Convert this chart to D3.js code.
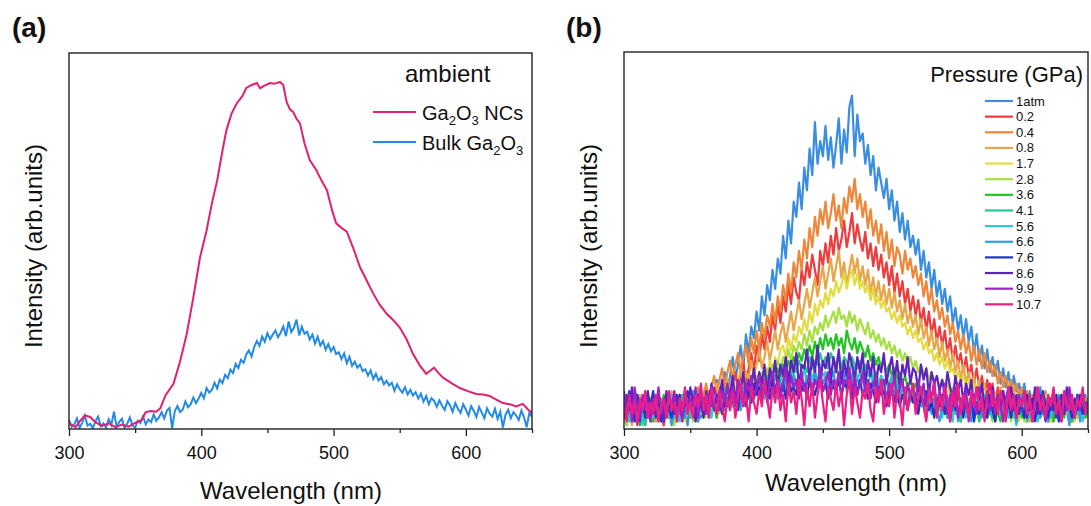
<!DOCTYPE html>
<html>
<head>
<meta charset="utf-8">
<script src="https://cdn.jsdelivr.net/npm/d3@7"></script>
<style>
  body { margin: 0; background: #fff; }
  text { font-family: "Liberation Sans", Arial, sans-serif; fill: #111; }
</style>
</head>
<body>
<svg width="1091" height="506"></svg>
<script>
// ---- panel (a) data ----
var wlA = d3.range(300, 651, 2); // 2 nm grid of the bulk spectrum
var bulkA = [
  2.4,0.6,1.2,2.8,0.3,1.7,3.6,0.9,1.4,0.2,
  2.1,3.3,0.7,1.5,0.4,2.6,1.1,4.6,0.5,1.9,
  2.7,0.3,1.4,3.1,0.9,0.4,2.2,1.6,3.4,1.2,
  2.5,1.8,3.9,2.2,3.1,4.5,2.8,4.9,5.6,0.2,
  4.8,6.1,4.5,5.2,7.3,5.8,6.6,8.4,6.9,8.1,
  9.6,8.2,10.9,9.7,10.4,12.3,10.8,13.1,12.2,14.4,
  13.5,15.8,14.9,17.3,16.2,18.4,17.6,19.8,20.9,19.3,
  21.8,23.4,22.1,24.6,23.2,25.5,23.9,25.1,26.2,24.4,
  25.6,27.3,24.7,28.6,25.8,26.9,29.1,24.9,27.2,25.3,
  25.9,23.8,25.1,22.7,24.5,22.2,23.4,21.1,22.6,20.7,
  21.8,19.9,20.4,18.6,20.1,17.5,19.2,16.8,17.9,16.3,
  17.1,15.4,15.9,14.2,15.6,13.3,14.7,12.9,13.8,11.9,
  12.8,11.6,12.3,10.2,11.9,10.6,9.7,11.1,9.2,10.4,
  8.9,9.8,8.1,9.4,7.3,8.8,6.6,8.2,7.5,5.9,
  7.6,6.2,5.1,7.4,6.3,4.6,6.9,5.4,4.3,6.6,
  5.2,3.6,6.1,4.8,3.2,5.9,4.4,2.9,5.5,4.1,
  3.3,5.4,2.7,4.6,0.4,3.8,5.1,2.9,4.5,3.6,
  2.4,4.9,3.1,0.5,4.3,3.3
];
var ncA = [
  [300,1.5],[305,0.5],[308,2],[312,3.6],[316,3.2],[320,1.8],[325,0.8],[330,1.5],
  [335,0.5],[340,1.2],[345,0.6],[350,1.6],[355,2.4],[358,4.5],[362,4.8],[366,4.6],
  [369,5.5],[373,9],[379,12],[384,18],[389,25.3],[394,35],[399,45.6],[404,52.8],
  [408,60],[412,66.1],[416,74],[419,79.5],[423,84],[427,86.7],[431,88.5],[434,90.7],
  [438,91.5],[442,92],[444.5,90.6],[447,91.2],[452,92],[455,91.8],[459.5,92.3],[462,91.5],
  [464.5,87],[467,85],[469.5,84.3],[472,82.5],[474.6,81.3],[478,76],[482,71.5],[487,68.8],
  [491,66],[495,63.5],[499,58],[502,54.7],[506,53.5],[510,52.5],[515,48],[520,43],
  [525,39.5],[530,36],[535,33],[540,30.7],[545,29],[550,27],[555,24],[560,20],
  [565,17],[570,14.7],[573,15.5],[576,16.3],[579,15],[583,13.6],[590,12],[595.5,10.9],
  [602,10],[608,9.3],[613,9.2],[618,8.8],[623,7.8],[628,6.9],[634,6.5],[638,6],
  [643,6.7],[647,5.2],[650,4.3]
];

// ---- panel (b) data ----
var wlB = d3.range(300, 651, 2); // 2 nm grid, 176 points
var pressures = ["1atm","0.2","0.4","0.8","1.7","2.8","3.6","4.1","5.6","6.6","7.6","8.6","9.9","10.7"];
var colorsB = ["#3a8ee2","#ee3b3b","#ef873a","#e9a648","#e2dc40","#a6e040","#22c422","#22c88e",
               "#32c6d2","#2f9fde","#2232c8","#5e22c0","#a022c6","#ec1f86"];

var p1atm = [4,1,7,3,9,2,5,8,1,6, 3,9,2,5,7,1,8,4,6,2, 7,3,9,5,1,8,4,6,10,3,
  5,9,4,11,7,13,8,10,15,9, 14,19,13,17,22,16,25,20,27,24, 31,26,35,30,38,34,42,37,45,41,
  51,45,55,49,60,56,65,58,69,63, 74,67,81,70,76,72,80,71,77,69, 75,82,70,79,73,85,88,72,83,76,
  78,70,75,67,72,63,69,65,61,66, 58,63,55,60,52,57,50,55,48,51, 46,50,42,47,40,44,37,42,35,39,
  33,37,31,35,28,32,26,30,24,29, 23,27,20,25,18,22,16,21,15,19, 14,18,12,16,11,15,9,14,10,12,
  8,12,6,10,5,9,7,11,4,8, 6,2,9,4,7,3,8,5,1,7, 4,8,2,6,9,3];
var p02 = [5,2,8,3,6,9,1,4,7,3, 8,2,5,9,4,1,7,3,6,8, 2,7,4,9,5,3,8,6,2,9,
  4,7,10,5,8,3,11,7,9,13, 8,12,15,10,14,18,12,16,20,15, 22,18,25,21,27,23,30,26,33,28,
  35,31,38,33,40,36,34,42,38,44, 40,46,42,38,47,43,49,44,51,46, 53,47,50,55,48,52,57,49,54,50,
  47,52,45,49,43,48,42,46,40,44, 38,43,36,41,35,39,33,37,31,35, 30,34,28,32,26,31,25,29,23,27,
  22,26,20,24,18,22,17,20,15,19, 14,17,12,16,11,14,9,13,8,12, 7,11,5,9,8,4,10,6,3,8,
  5,9,2,7,4,8,6,3,9,5, 2,7,5,9,3,6,8,4,7,2, 6,9,4,7,3,8];
var p04 = [7,3,9,5,2,8,4,6,10,3, 6,9,4,2,8,5,7,3,9,6, 3,8,5,10,6,4,9,7,11,5,
  9,12,7,11,14,9,13,16,11,15, 18,13,17,20,15,19,22,17,24,20, 26,21,28,24,30,27,33,28,35,31,
  38,34,41,36,44,40,47,42,50,45, 53,48,56,51,58,54,60,53,57,62, 55,59,53,61,57,64,60,66,58,62,
  56,60,53,58,51,55,49,54,47,52, 45,50,43,48,46,41,47,42,45,40, 43,38,41,35,39,33,37,31,34,29,
  32,27,30,25,28,23,26,21,25,20, 23,18,22,17,21,16,20,15,18,14, 17,12,15,11,14,10,13,9,12,8,
  11,7,10,5,9,6,3,8,5,10, 4,7,2,9,6,3,8,5,10,4, 7,3,9,5,8,6];
var p08 = [3,8,5,1,7,4,9,2,6,8, 4,7,2,9,5,8,3,6,10,4, 8,5,2,9,6,4,10,7,3,8,
  6,10,7,4,9,12,8,11,7,13, 10,14,9,12,16,11,15,13,18,14, 17,21,16,19,23,18,22,26,21,25,
  28,23,27,31,26,30,34,29,33,37, 32,36,40,35,39,43,37,41,45,39, 43,47,40,44,38,42,46,41,45,39,
  43,38,42,36,40,35,39,34,38,33, 37,32,36,31,34,29,33,28,31,27, 30,25,29,24,27,22,26,21,24,19,
  23,18,21,16,20,15,18,13,17,12, 15,11,14,9,13,8,12,7,10,6, 9,5,11,7,4,8,6,10,3,7,
  9,4,6,2,8,5,10,3,7,4, 8,5,2,9,6,3,7,4,9,5, 2,6,8,4,7,3];
var p17 = [7,3,5,9,2,6,4,8,3,5, 2,6,9,4,7,3,8,5,1,7, 4,9,6,2,8,5,3,7,9,4,
  6,3,8,5,9,7,4,8,6,9, 7,10,8,11,9,12,10,13,11,14, 13,15,12,16,14,18,15,19,17,21,
  22,19,24,21,25,23,27,25,29,26, 31,28,33,30,34,32,36,33,37,35, 39,36,38,41,37,40,42,38,41,37,
  39,36,38,34,37,33,35,32,34,31, 32,29,31,28,30,27,28,25,27,24, 26,23,24,21,23,20,21,18,20,17,
  19,16,18,15,16,13,15,12,14,11, 13,10,12,9,11,8,10,7,9,6, 8,5,9,6,3,7,4,8,5,2,
  6,9,3,7,5,8,2,6,4,9, 5,2,7,4,8,3,6,9,4,7, 2,6,8,3,5,7];
var p28 = [5,1,7,4,9,3,6,2,8,4, 7,3,5,9,2,6,4,8,5,1, 6,9,3,7,4,8,2,5,9,6,
  3,7,5,9,6,4,8,7,10,6, 9,7,11,8,10,9,12,10,13,11, 14,12,15,13,16,14,17,15,18,16,
  19,17,21,18,22,20,23,21,25,22, 26,23,27,25,28,26,30,27,29,31, 28,32,29,30,27,31,28,30,26,29,
  27,25,28,24,26,23,25,22,24,21, 23,20,22,19,21,18,20,17,19,16, 18,15,17,14,16,13,15,12,14,11,
  13,10,12,9,11,8,10,7,9,6, 8,5,9,6,3,7,4,8,5,2, 6,9,3,7,5,8,2,6,4,9,
  5,2,7,4,8,3,6,9,4,7, 2,6,8,3,5,7,4,9,2,6, 8,3,5,7,4,6];
var p36 = [3,7,2,5,8,4,1,6,9,3, 5,2,8,4,6,9,3,7,2,5, 8,4,6,3,9,5,7,2,6,8,
  4,7,5,9,6,3,8,6,10,7, 9,6,10,8,11,7,12,9,11,10, 12,10,13,11,14,12,15,13,16,14,
  17,14,18,16,19,17,20,18,21,19, 22,19,23,20,24,21,25,22,24,21, 25,22,24,20,26,23,21,24,20,23,
  21,19,22,18,20,17,19,16,18,15, 17,14,16,13,15,12,14,11,13,10, 12,9,11,8,10,7,9,6,8,5,
  9,6,3,7,4,8,5,2,6,9, 3,7,5,8,2,6,4,9,5,3, 7,4,2,6,8,3,5,9,4,6,
  3,7,5,8,2,6,9,4,7,3, 5,8,2,6,4,9,3,7,5,2, 6,8,4,7,3,5];
var p41 = [6,3,8,2,5,9,4,7,1,6, 3,8,5,2,7,4,9,3,6,8, 2,5,9,4,7,3,8,6,10,5,
  8,4,7,10,6,9,5,8,11,7, 9,6,10,8,12,9,11,8,12,10, 13,10,12,11,14,12,15,13,14,12,
  16,13,15,14,17,15,18,16,17,15, 19,16,18,17,20,17,19,16,20,18, 17,20,16,19,18,15,19,17,16,18,
  15,17,14,16,13,15,12,14,11,13, 12,14,11,13,10,12,9,11,8,10, 9,11,7,10,6,9,5,8,4,7,
  8,5,3,7,9,4,6,2,8,5, 7,3,9,5,2,6,8,4,7,3, 6,9,4,2,7,5,8,3,6,9,
  4,7,2,5,8,3,6,9,4,7, 2,6,8,5,3,7,4,9,6,2, 5,8,3,7,4,6];
var p56 = [4,9,2,6,3,8,5,1,7,4, 8,3,6,10,2,5,7,4,9,3, 6,2,8,5,9,4,7,3,10,6,
  4,8,6,3,9,5,7,10,6,8, 5,9,7,10,8,6,11,9,7,10, 12,9,11,8,13,10,12,9,14,11,
  13,10,14,12,15,11,14,13,16,12, 15,13,16,12,17,14,15,13,16,14, 17,13,15,16,12,15,14,17,13,15,
  12,14,11,15,12,13,10,14,11,12, 10,13,9,12,8,11,9,10,7,11, 8,10,6,9,5,8,7,4,9,6,
  3,8,5,7,2,9,4,6,8,3, 7,5,2,8,4,6,9,3,5,7, 2,6,9,4,7,3,8,5,1,6,
  9,4,7,3,6,8,2,5,9,4, 6,3,8,5,2,7,4,9,6,3, 7,4,8,2,6,5];
var p66 = [7,3,5,9,2,6,4,8,3,5, 2,7,4,9,6,3,8,5,1,6, 9,4,7,3,8,5,10,6,2,7,
  5,8,3,9,6,4,10,7,5,8, 6,10,7,9,5,11,8,10,7,9, 11,8,12,9,10,13,9,11,8,12,
  10,13,11,9,14,12,10,13,11,14, 12,10,15,11,13,12,14,10,13,15, 11,14,12,15,10,13,14,11,13,12,
  14,10,12,11,13,9,12,10,11,8, 12,9,10,7,11,8,10,6,9,7, 8,5,9,6,3,7,4,8,5,2,
  6,9,3,7,5,8,2,6,4,9, 5,2,7,4,8,3,6,9,4,7, 2,6,8,3,5,7,4,9,2,6,
  8,3,5,7,4,6,9,3,5,8, 2,7,4,6,9,3,5,8,2,6, 4,9,3,7,5,8];
var p76 = [8,4,10,6,2,9,5,7,3,9, 6,10,4,8,2,7,9,5,3,8, 5,9,3,7,10,6,8,4,9,7,
  3,8,6,10,5,9,7,4,8,6, 10,7,9,5,11,8,6,10,7,12, 9,11,7,12,10,8,13,9,11,10,
  12,8,13,10,11,9,14,10,12,8, 13,11,9,12,14,10,12,8,13,11, 10,13,9,12,11,14,8,12,10,13,
  9,11,8,12,10,7,11,9,10,6, 9,11,7,10,6,9,8,5,10,7, 8,4,9,6,10,5,7,3,8,6,
  9,4,7,2,8,5,10,6,3,8, 5,9,2,7,4,8,6,3,9,5, 2,8,6,10,4,7,3,9,5,8,
  6,3,9,5,8,2,7,4,10,6, 3,8,5,9,2,7,4,10,6,3, 8,5,9,4,7,6];
var p86 = [3,9,5,11,4,7,2,8,6,10, 4,8,3,9,6,2,10,5,7,4, 9,6,3,8,5,11,7,2,9,6,
  4,10,7,12,5,9,8,13,6,11, 9,14,7,12,10,15,8,13,11,16, 10,15,12,17,9,16,13,18,11,17,
  14,19,12,18,15,20,11,17,16,21, 13,19,15,22,12,18,16,20,13,19, 15,21,12,18,14,20,17,13,19,15,
  20,12,18,14,19,11,17,15,20,12, 16,19,13,18,11,17,14,19,12,16, 15,10,17,13,16,9,15,12,14,10,
  13,9,15,11,8,14,10,13,7,12, 9,13,6,11,8,12,5,10,7,11, 4,9,6,10,3,8,11,5,9,4,
  7,10,3,8,5,11,4,9,6,2, 8,5,10,3,7,9,4,11,6,8, 3,9,5,10,4,7];
var p99 = [10,4,8,2,11,6,3,9,5,7, 2,8,5,11,4,7,3,9,6,10, 4,7,2,9,5,8,6,11,3,10,
  7,4,9,6,11,8,5,10,7,12, 8,11,6,13,9,7,12,10,14,8, 11,14,9,13,7,12,15,10,13,8,
  12,16,9,14,11,13,8,15,10,12, 14,9,13,11,16,10,12,15,9,13, 11,15,8,13,12,16,10,14,9,12,
  15,10,13,8,12,14,9,11,13,7, 12,10,14,8,11,13,7,12,9,11, 7,13,9,12,6,11,8,13,5,10,
  7,12,4,9,6,11,3,8,5,10, 2,7,9,4,11,6,3,8,5,10, 4,9,6,2,8,11,5,7,3,9,
  6,10,4,8,2,7,11,5,9,3, 8,6,10,4,7,2,9,5,11,6, 3,8,5,10,4,7];
var p107 = [6,2,9,4,7,1,8,5,10,3, 7,4,9,2,6,8,3,10,5,7, 2,8,5,11,4,7,3,9,6,12,
  5,9,3,11,7,4,10,6,2,8, 5,10,3,8,12,6,9,2,11,7, 4,10,6,13,8,3,11,7,12,5,
  9,2,12,7,10,4,13,8,1,11, 6,12,3,9,13,7,2,11,8,5, 12,6,10,1,9,13,4,11,7,3,
  10,8,12,5,2,11,7,13,4,9, 6,12,3,10,8,1,11,5,9,12, 4,8,11,6,2,10,7,12,3,9,
  5,11,8,2,10,6,12,4,9,7, 3,10,6,11,5,8,2,9,12,6, 8,4,10,7,2,11,5,9,3,8,
  6,10,4,9,2,7,11,5,8,3, 9,6,11,4,8,2,10,7,5,9, 3,8,6,11,4,7];
var seriesB = [p1atm,p02,p04,p08,p17,p28,p36,p41,p56,p66,p76,p86,p99,p107];

var majorTicks = [300, 400, 500, 600];
var minorTicks = [350, 450, 550, 650];

var svg = d3.select("svg");

function panel(opt) {
  var x = d3.scaleLinear().domain([300, 650]).range([opt.left, opt.right]);
  var y = d3.scaleLinear().domain([0, 100]).range([opt.bottom, opt.top]);
  var g = svg.append("g");

  g.append("clipPath").attr("id", opt.id)
    .append("rect")
    .attr("x", opt.left).attr("y", opt.top)
    .attr("width", opt.right - opt.left).attr("height", opt.bottom - opt.top);

  g.append("g")
    .attr("transform", "translate(0," + opt.bottom + ")")
    .call(d3.axisBottom(x).tickValues(minorTicks).tickFormat("").tickSize(4).tickSizeOuter(0))
    .call(function (a) { a.select(".domain").remove(); })
    .selectAll("line").attr("stroke", "#222").attr("stroke-width", 1.3);

  var ax = g.append("g")
    .attr("transform", "translate(0," + opt.bottom + ")")
    .call(d3.axisBottom(x).tickValues(majorTicks).tickSize(7).tickSizeOuter(0).tickPadding(10));
  ax.select(".domain").remove();
  ax.selectAll("line").attr("stroke", "#222").attr("stroke-width", 1.3);
  ax.selectAll("text")
    .style("font-family", '"Liberation Sans", Arial, sans-serif')
    .style("font-size", "18px").attr("fill", "#111");

  g.append("text")
    .attr("x", opt.xTitleX).attr("y", opt.xTitleY)
    .attr("text-anchor", "middle").style("font-size", "24px")
    .text("Wavelength (nm)");

  g.append("text")
    .attr("transform", "translate(" + opt.yTitleX + ",246) rotate(-90)")
    .attr("text-anchor", "middle").style("font-size", "24px")
    .text("Intensity (arb.units)");

  g.append("text")
    .attr("x", opt.tagX).attr("y", 37)
    .style("font-size", "28px").style("font-weight", "bold")
    .text(opt.tag);

  var plot = g.append("g").attr("clip-path", "url(#" + opt.id + ")");

  return {x: x, y: y, g: g, plot: plot, opt: opt};
}

function frame(p) {
  var o = p.opt;
  p.g.append("rect")
    .attr("x", o.left).attr("y", o.top)
    .attr("width", o.right - o.left).attr("height", o.bottom - o.top)
    .attr("fill", "none").attr("stroke", "#222").attr("stroke-width", 1.4);
}

// ---------- panel (a) ----------
var pa = panel({id: "clipA", left: 69, right: 532, top: 53, bottom: 429,
  xTitleX: 291, xTitleY: 499, yTitleX: 42, tagX: 12, tag: "(a)"});

var lineA = d3.line().x(function (d) { return pa.x(d[0]); }).y(function (d) { return pa.y(d[1]); });

pa.plot.append("path")
  .datum(wlA.map(function (w, i) { return [w, bulkA[i]]; }))
  .attr("d", lineA).attr("fill", "none")
  .attr("stroke", "#238be6").attr("stroke-width", 2);

pa.plot.append("path")
  .datum(ncA)
  .attr("d", lineA).attr("fill", "none")
  .attr("stroke", "#e3206f").attr("stroke-width", 2);

frame(pa);

pa.g.append("text").attr("x", 405).attr("y", 82).style("font-size", "24px").text("ambient");

var legA = [
  {color: "#e3206f", y: 112, parts: [["Ga"], ["2", 1], ["O"], ["3", 1], [" NCs"]]},
  {color: "#238be6", y: 142, parts: [["Bulk Ga"], ["2", 1], ["O"], ["3", 1]]}
];
legA.forEach(function (l) {
  pa.g.append("line").attr("x1", 373).attr("x2", 416).attr("y1", l.y).attr("y2", l.y)
    .attr("stroke", l.color).attr("stroke-width", 2);
  var t = pa.g.append("text").attr("x", 422).attr("y", l.y + 8).style("font-size", "20px");
  var shifted = false;
  l.parts.forEach(function (p) {
    var ts = t.append("tspan").text(p[0]);
    if (p[1]) { ts.style("font-size", "13px").attr("dy", shifted ? 0 : 5); shifted = true; }
    else if (shifted) { ts.attr("dy", -5); shifted = false; }
  });
});

// ---------- panel (b) ----------
var pb = panel({id: "clipB", left: 624, right: 1088, top: 52, bottom: 429,
  xTitleX: 856, xTitleY: 491, yTitleX: 597, tagX: 566, tag: "(b)"});
pb.y.domain([0, 99.5]);

var lineB = d3.line().x(function (d) { return pb.x(d[0]); }).y(function (d) { return pb.y(d[1]); });

seriesB.forEach(function (s, k) {
  pb.plot.append("path")
    .datum(wlB.map(function (w, i) { return [w, s[i]]; }))
    .attr("d", lineB).attr("fill", "none")
    .attr("stroke", colorsB[k]).attr("stroke-width", 2.2)
    .attr("stroke-linejoin", "round");
});

frame(pb);

pb.g.append("text").attr("x", 1083).attr("y", 82).attr("text-anchor", "end")
  .style("font-size", "22px").text("Pressure (GPa)");

var legB = pb.g.selectAll(".legb").data(pressures).enter().append("g")
  .attr("transform", function (d, i) { return "translate(0," + (101 + i * 15.64) + ")"; });
legB.append("line").attr("x1", 985).attr("x2", 1013)
  .attr("stroke", function (d, i) { return colorsB[i]; }).attr("stroke-width", 2.2);
legB.append("text").attr("x", 1016).attr("y", 4.5).style("font-size", "13px")
  .text(function (d) { return d; });
</script>
</body>
</html>
